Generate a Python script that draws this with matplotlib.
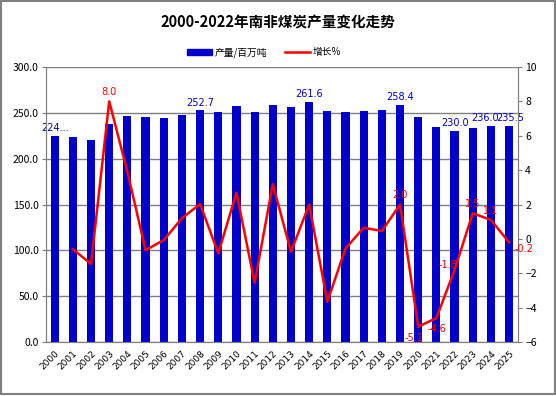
"""
South Africa coal output, 2000-2025: bars for output, line for growth.
"""

import matplotlib

matplotlib.use("Agg")
import matplotlib.pyplot as plt
from matplotlib.lines import Line2D
from matplotlib.patches import Patch

plt.rcParams["font.family"] = ["Noto Sans CJK SC", "DejaVu Sans"]

YEARS = [str(y) for y in range(2000, 2026)]
OUTPUT = [224.5, 223.5, 220.0, 237.5, 246.5, 245.5, 244.4, 247.6, 252.7, 250.8,
          257.4, 250.6, 258.5, 256.3, 261.6, 252.0, 250.8, 252.0, 253.0, 258.4,
          245.5, 234.6, 230.0, 233.5, 236.0, 235.5]
GROWTH = [None, -0.6, -1.45, 8.0, 3.9, -0.65, -0.07, 1.2, 2.03, -0.84,
          2.69, -2.55, 3.19, -0.75, 2.0, -3.65, -0.55, 0.65, 0.46, 2.0,
          -5.1, -4.6, -1.8, 1.5, 1.1, -0.2]

# which points carry a value label
BAR_LABELS = {0: "224...", 8: "252.7", 14: "261.6", 19: "258.4", 22: "230.0",
              24: "236.0", 25: "235.5"}
LINE_LABELS = {3: "8.0", 19: "2.0", 20: "-5.1", 21: "-4.6", 22: "-1.8",
               23: "1.5", 24: "1.1", 25: "-0.2"}

BAR_COLOR = "#0000CC"
LINE_COLOR = "#FF0000"
GRID_COLOR = "#808080"


def main() -> None:
    fig = plt.figure(figsize=(5.56, 3.96), dpi=100)
    ax = fig.add_axes([0.082, 0.136, 0.85, 0.695])
    ax2 = ax.twinx()

    x = list(range(len(YEARS)))
    ax.bar(x, OUTPUT, width=0.45, color=BAR_COLOR, zorder=2)
    ax.set_ylim(0, 300)
    ax.set_yticks(range(0, 301, 50))
    ax.set_yticklabels([f"{v:.1f}" for v in range(0, 301, 50)])
    ax.set_xlim(-0.5, len(YEARS) - 0.5)
    ax.set_xticks(x)
    ax.set_xticklabels(YEARS, rotation=45, ha="right", rotation_mode="anchor",
                       fontsize=6.5, family="DejaVu Sans")
    ax.yaxis.grid(True, color=GRID_COLOR, linewidth=1.0, zorder=0)
    ax.set_axisbelow(True)
    ax.tick_params(axis="x", length=0, pad=5)
    ax.tick_params(axis="y", labelsize=7.5, length=3, color=GRID_COLOR, pad=2)

    gx = [i for i, g in enumerate(GROWTH) if g is not None]
    gy = [g for g in GROWTH if g is not None]
    ax2.plot(gx, gy, color=LINE_COLOR, linewidth=1.8, zorder=3)
    ax2.set_ylim(-6, 10)
    ax2.set_yticks(range(-6, 11, 2))
    ax2.tick_params(axis="y", labelsize=7.5, length=3, color=GRID_COLOR, pad=2)

    for a in (ax, ax2):
        for side in ("top", "bottom", "left", "right"):
            a.spines[side].set_color(GRID_COLOR)
        a.spines["top"].set_visible(False)

    for i, txt in BAR_LABELS.items():
        dx = {24: -0.3, 25: 0.05}.get(i, 0)
        ax.text(i + dx, OUTPUT[i] + 3, txt, ha="center", va="bottom", fontsize=7,
                color=BAR_COLOR, family="DejaVu Sans")
    for i, txt in LINE_LABELS.items():
        g = GROWTH[i]
        if i in (20, 21):
            y, va = g - 0.35, "top"
        elif i == 25:
            y, va = g - 0.1, "top"
        elif i == 22:
            y, va = g + 0.3, "center"
        else:
            y, va = g + 0.25, "bottom"
        dx = {20: -0.25, 21: 0.0, 22: -0.35, 25: 0.8}.get(i, 0)
        ax2.text(i + dx, y, txt, ha="center", va=va, fontsize=7,
                 color=LINE_COLOR, family="DejaVu Sans", zorder=5)

    fig.text(0.5, 0.942, "2000-2022年南非煤炭产量变化走势", ha="center",
             va="center", fontsize=10.5, fontweight="bold")

    handles = [
        Patch(color=BAR_COLOR, label="产量/百万吨"),
        Line2D([0], [0], color=LINE_COLOR, linewidth=1.8, label="增长%"),
    ]
    fig.legend(handles=handles, loc="center", bbox_to_anchor=(0.475, 0.868), ncol=2,
               frameon=False, fontsize=7, handlelength=2.6, handleheight=0.6,
               handletextpad=0.3, columnspacing=1.8)

    # grey outer border
    fig.patches.append(plt.Rectangle((0.001, 0.004), 0.997, 0.994, fill=False,
                                     edgecolor=GRID_COLOR, linewidth=1.5,
                                     transform=fig.transFigure))

    fig.savefig("out.png", dpi=100)
    plt.close(fig)


if __name__ == "__main__":
    main()
